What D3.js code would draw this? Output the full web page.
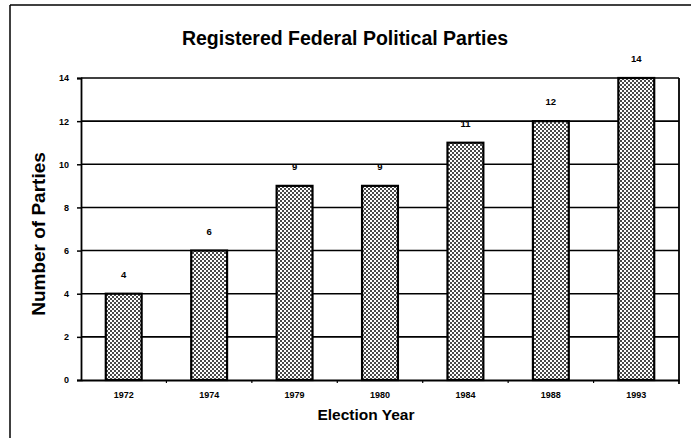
<!DOCTYPE html>
<html>
<head>
<meta charset="utf-8">
<script src="https://cdn.jsdelivr.net/npm/d3@7"></script>
<style>
  html, body { margin: 0; padding: 0; background: #fff; }
  svg { display: block; }
  text { font-family: "Liberation Sans", Arial, sans-serif; font-weight: bold; fill: #000; }
</style>
</head>
<body>
<svg id="chart" width="691" height="438"></svg>
<script>
// Election years and number of registered parties
const years = ["1972", "1974", "1979", "1980", "1984", "1988", "1993"];
const parties = [4, 6, 9, 9, 11, 12, 14];
const yTicks = [0, 2, 4, 6, 8, 10, 12, 14];

const title = "Registered Federal Political Parties";
const xTitle = "Election Year";
const yTitle = "Number of Parties";

const svg = d3.select("#chart");
const W = 691, H = 438;
const plot = { left: 81, right: 679, top: 78, bottom: 380 };

// halftone fill for the bars
const defs = svg.append("defs");
const pat = defs.append("pattern")
  .attr("id", "dots")
  .attr("patternUnits", "userSpaceOnUse")
  .attr("width", 4).attr("height", 4);
pat.append("rect").attr("width", 4).attr("height", 4).attr("fill", "#fff");
pat.append("rect").attr("x", 0).attr("y", 0).attr("width", 2).attr("height", 2).attr("fill", "#4a4a4a");
pat.append("rect").attr("x", 2).attr("y", 2).attr("width", 2).attr("height", 2).attr("fill", "#4a4a4a");

// outer frame (top and left edges)
svg.append("line").attr("x1", 10).attr("x2", W).attr("y1", 5).attr("y2", 5)
  .attr("stroke", "#000").attr("stroke-width", 1.5);
svg.append("line").attr("x1", 10).attr("x2", 10).attr("y1", 5).attr("y2", H)
  .attr("stroke", "#000").attr("stroke-width", 1.5);

const x = d3.scaleBand().domain(years).range([plot.left, plot.right]).paddingInner(0.58).paddingOuter(0.29);
const y = d3.scaleLinear().domain([0, 14]).range([plot.bottom, plot.top]);

// horizontal grid
svg.append("g").selectAll("line").data(yTicks.filter(d => d > 0)).join("line")
  .attr("x1", plot.left).attr("x2", plot.right)
  .attr("y1", d => y(d)).attr("y2", d => y(d))
  .attr("stroke", "#000").attr("stroke-width", 1.6);

// right edge of plot
svg.append("line").attr("x1", plot.right).attr("x2", plot.right)
  .attr("y1", plot.top).attr("y2", plot.bottom + 4)
  .attr("stroke", "#000").attr("stroke-width", 1.8);

// bars
svg.append("g").selectAll("rect").data(parties).join("rect")
  .attr("x", (d, i) => x(years[i]))
  .attr("y", d => y(d))
  .attr("width", x.bandwidth())
  .attr("height", d => y(0) - y(d))
  .attr("fill", "url(#dots)")
  .attr("stroke", "#000").attr("stroke-width", 2.2);

// value labels
svg.append("g").selectAll("text").data(parties).join("text")
  .attr("x", (d, i) => x(years[i]) + x.bandwidth() / 2)
  .attr("y", d => y(d) - 16)
  .attr("text-anchor", "middle")
  .attr("font-size", 9.5)
  .text(d => d);

// y axis
const yAxis = svg.append("g").attr("transform", `translate(${plot.left},0)`)
  .call(d3.axisLeft(y).tickValues(yTicks).tickSize(4).tickPadding(8).tickFormat(d3.format("d")));
yAxis.select(".domain").attr("stroke", "#000").attr("stroke-width", 1.8);
yAxis.selectAll(".tick line").attr("stroke", "#000").attr("stroke-width", 1.5);
yAxis.selectAll(".tick text").attr("font-size", 9).attr("font-family", "Liberation Sans, Arial, sans-serif").attr("font-weight", "bold");

// x axis
const xAxis = svg.append("g").attr("transform", `translate(0,${plot.bottom})`)
  .call(d3.axisBottom(x).tickSize(0).tickPadding(12));
xAxis.select(".domain").attr("stroke", "#000").attr("stroke-width", 1.8);
xAxis.selectAll(".tick text").attr("font-size", 9).attr("font-family", "Liberation Sans, Arial, sans-serif").attr("font-weight", "bold");
// small marks between categories
const step = x.step();
svg.append("g").selectAll("line").data(years.slice(1)).join("line")
  .attr("x1", d => x(d) - (step - x.bandwidth()) / 2)
  .attr("x2", d => x(d) - (step - x.bandwidth()) / 2)
  .attr("y1", plot.bottom).attr("y2", plot.bottom + 3)
  .attr("stroke", "#000").attr("stroke-width", 1.2);

// titles
svg.append("text").attr("x", 345).attr("y", 45).attr("text-anchor", "middle")
  .attr("font-size", 19.5).text(title);
svg.append("text").attr("x", 366).attr("y", 420).attr("text-anchor", "middle")
  .attr("font-size", 15.5).text(xTitle);
svg.append("text").attr("transform", `translate(45,${(plot.top + plot.bottom) / 2 + 5}) rotate(-90)`)
  .attr("text-anchor", "middle").attr("font-size", 19).text(yTitle);
</script>
</body>
</html>
